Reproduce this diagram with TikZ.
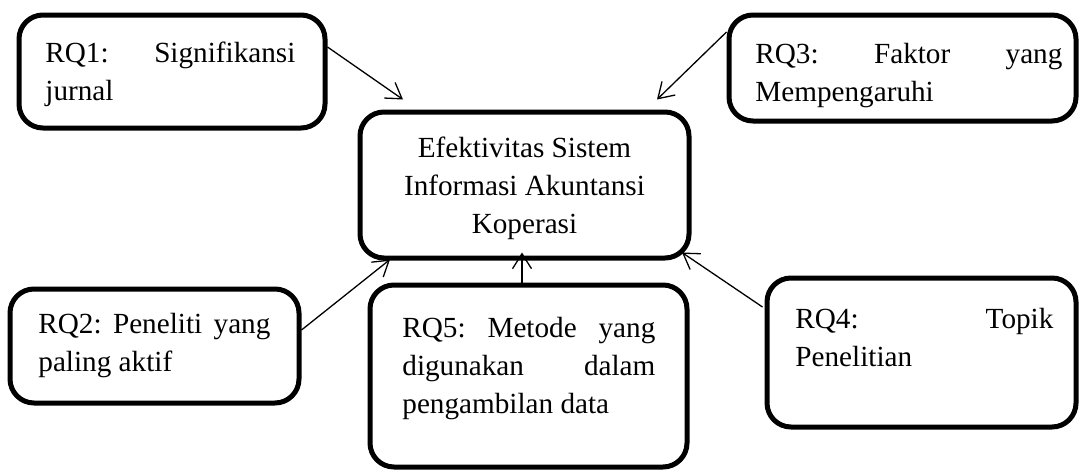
\documentclass[tikz,border=0pt]{standalone}
\usepackage{fontspec}
\setmainfont{Liberation Serif}
\usetikzlibrary{calc,arrows.meta}
\begin{document}
\begin{tikzpicture}[x=0.5pt,y=-0.5pt,
  box/.style={draw, line width=2.5pt, rounded corners=12pt, inner sep=0pt, fill=none},
  txt/.style={anchor=base west, inner sep=0pt, font=\fontsize{14.6}{19}\selectfont},
  arr/.style={-{Straight Barb[length=7.5pt,width=9.5pt]}, line width=0.65pt}]
\useasboundingbox (0,0) rectangle (1080,471);
% boxes
\node[box, minimum width=153pt, minimum height=56.5pt] (rq1) at (172,71.5) {};
\node[box, minimum width=173.5pt, minimum height=53pt] (rq3) at (902.5,68) {};
\node[box, minimum width=164.5pt, minimum height=73pt] (main) at (524.5,185) {};
\node[box, minimum width=144.5pt, minimum height=57pt] (rq2) at (154.5,346) {};
\node[box, minimum width=158.5pt, minimum height=91pt] (rq5) at (528.5,376) {};
\node[box, minimum width=154.5pt, minimum height=74.5pt] (rq4) at (921.5,352.5) {};
% texts
\node[txt] (t1) at (45,62) {\parbox[t]{125pt}{RQ1:\hfill Signifikansi\\jurnal}};
\node[txt] (t3) at (755,63) {\parbox[t]{153.5pt}{RQ3:\hfill Faktor\hfill yang\\Mempengaruhi}};
\node[txt, anchor=base] (tm) at (524.5,157) {\parbox[t]{160pt}{\centering Efektivitas Sistem\\Informasi Akuntansi\\Koperasi}};
\node[txt] (t2) at (38,333) {\parbox[t]{116pt}{RQ2:\hfill Peneliti\hfill yang\\paling aktif}};
\node[txt] (t5) at (402,337) {\parbox[t]{126.5pt}{RQ5:\hfill Metode\hfill yang\\digunakan\hfill dalam\\pengambilan data}};
\node[txt] (t4) at (795,328) {\parbox[t]{129pt}{RQ4:\hfill Topik\\Penelitian}};
% arrows
\draw[arr] ($(rq1.east)+(0,-24.5)$) -- ($(main.north)+(-121.5,-10)$);
\draw[arr] ($(rq3.west)+(0,-36)$) -- ($(main.north)+(132.5,-10)$);
\draw[arr] ($(rq2.east)+(0,-16)$) -- ($(main.south)+(-134.5,-1)$);
\draw[arr] ($(rq5.north)+(-6.5,0)$) -- ($(main.south)+(-2.5,-8)$);
\draw[arr] ($(rq4.west)+(-2,-45.5)$) -- ($(main.south)+(157.5,-8)$);
\end{tikzpicture}
\end{document}
